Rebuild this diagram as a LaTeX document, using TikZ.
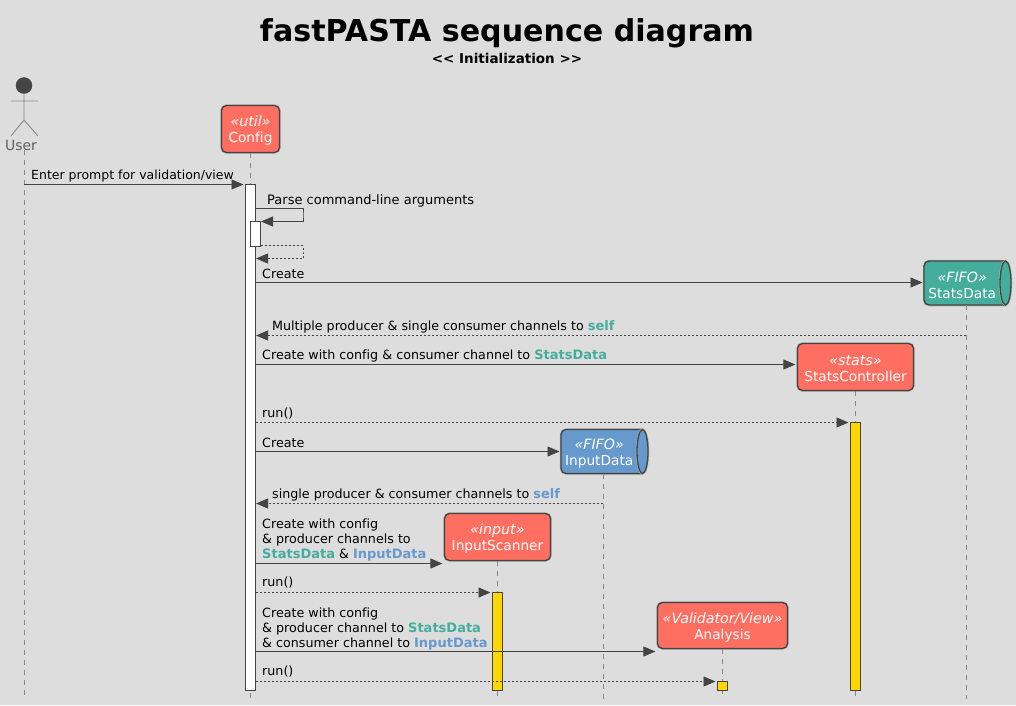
\documentclass[tikz,border=0pt]{standalone}
\usepackage{fontspec}
\setmainfont[Ligatures=NoCommon]{DejaVu Sans}
\usetikzlibrary{arrows.meta}
\definecolor{bgcol}{HTML}{DDDDDD}
\definecolor{linecol}{HTML}{444444}
\definecolor{lifecol}{HTML}{888888}
\definecolor{boxred}{HTML}{FF6F61}
\definecolor{fifoteal}{HTML}{45AD9B}
\definecolor{fifoblue}{HTML}{6699CC}
\definecolor{runyellow}{HTML}{FFD700}
\newcommand{\boldword}[2]{\textcolor{#1}{\fontsize{13}{15}\selectfont\bfseries #2}}
\newcommand{\sdata}{\boldword{fifoteal}{StatsData}}
\newcommand{\idata}{\boldword{fifoblue}{InputData}}
\newcommand{\stereo}[1]{{\fontsize{14.2}{16}\selectfont\itshape\rule{0pt}{14pt}#1}}
\tikzset{
  every node/.style={inner sep=0pt},
  msg/.style={draw=linecol,line width=0.9pt,shorten >=1.5pt,-{Triangle[length=12pt,width=10pt,fill=linecol]}},
  ret/.style={msg,dash pattern=on 2pt off 2pt},
  back/.style={shorten >=0pt},
  lifeline/.style={draw=lifecol,line width=0.9pt,dash pattern=on 5pt off 5pt},
  msgtext/.style={anchor=west,align=left,text=black,font=\fontsize{12.7}{15}\selectfont},
  partbox/.style={draw=linecol,line width=1.3pt,rounded corners=5pt,fill=boxred,text=white,align=center,
    font=\fontsize{13.7}{16}\selectfont,preaction={draw=black!30,line width=2.5pt}},
  fifobody/.style={draw=linecol,line width=1.3pt,preaction={draw=black!30,line width=2.5pt}},
  fifotext/.style={text=white,align=center,anchor=north west,minimum width=76pt,minimum height=44pt,
    font=\fontsize{13.7}{16}\selectfont},
  activebar/.style={draw=linecol,line width=1pt,fill=white,minimum width=10pt},
}
\begin{document}
\begin{tikzpicture}[x=1pt,y=-1pt]
  \fill[bgcol] (0,0) rectangle (1016,705);
  \useasboundingbox (0,0) rectangle (1016,705);
  \node (title) at (507,33) {\fontsize{30.1}{34}\selectfont\bfseries fastPASTA sequence diagram};
  \node (subtitle) at (507,58) {\fontsize{13.5}{16}\selectfont\bfseries {<}{<} Initialization {>}{>}};
  % actor
  \node[circle,fill=linecol,draw=linecol,minimum size=16pt] (head) at (24,85.5) {};
  \node[text=linecol!85,font=\fontsize{14}{16}\selectfont] (user) at (21,145) {User};
  \coordinate (neck) at (24,120);
  \coordinate (handl) at (11,101); \coordinate (handr) at (38,101);
  \coordinate (footl) at (11,136); \coordinate (footr) at (38,136);
  \draw[lifecol,line width=0.9pt] (head) -- (neck) (handl) -- (handr) (footl) -- (neck) -- (footr);
  % participants
  \node[partbox,minimum width=58pt,minimum height=47pt] (config) at (250.5,129) {\stereo{«util»}\\Config};
  \node[partbox,minimum width=116pt,minimum height=47pt] (statsctrl) at (855.5,367) {\stereo{«stats»}\\StatsController};
  \node[partbox,minimum width=106pt,minimum height=47pt] (scanner) at (497.5,537) {\stereo{«input»}\\InputScanner};
  \node[partbox,minimum width=130pt,minimum height=46pt] (analysis) at (722.5,625.5) {\stereo{«Validator/View»}\\Analysis};
  % channels
  \foreach \name/\px/\py/\col/\txt in {statsdata/924/261/fifoteal/StatsData,inputdata/561/429.5/fifoblue/InputData}{
    \draw[fifobody,fill=\col,rounded corners=5pt] (\px+81.5,\py) -- (\px,\py) -- (\px,\py+44) -- (\px+81.5,\py+44);
    \draw[fifobody,fill=\col] (\px+81.5,\py+22) ellipse [x radius=5.5pt,y radius=22pt];
    \node[fifotext] (\name) at (\px,\py) {\stereo{«FIFO»}\\\txt};
  }
  % lifelines
  \foreach \name/\x/\yend in {user/24/699,config/250.5/699,statsdata/966/699,statsctrl/855.5/699,inputdata/603/699,scanner/497.5/699,analysis/722.5/696}{
    \coordinate (\name-end) at (\x,\yend);
    \draw[lifeline] (\name.south -| \name-end) -- (\name-end);
  }
  % activations
  \node[activebar,minimum height=506pt] (cfgbar) at (250.5,437) {};
  \node[activebar,minimum height=25pt] (subbar) at (255.5,233.5) {};
  \node[activebar,fill=runyellow,minimum height=268pt] (ctrlbar) at (855.5,556.5) {};
  \node[activebar,fill=runyellow,minimum height=98pt] (scanbar) at (497.5,641.5) {};
  \node[activebar,fill=runyellow,minimum height=9pt] (anabar) at (722.5,686) {};
  % messages
  \coordinate (loopin) at (303,215); \coordinate (loopout) at (303,252);
  \draw[msg] (user-end |- 0,184.5) -- (cfgbar.west |- 0,184.5);
  \draw[msg,back] (cfgbar.east |- 0,208.5) -| (loopin) |- (subbar.east |- 0,221.5);
  \draw[ret,back] (subbar.east |- 0,245.5) -| (loopout) |- (cfgbar.east |- 0,258.5);
  \draw[msg] (cfgbar.east |- 0,282.5) -- (statsdata.west |- 0,282.5);
  \draw[ret,back] (statsdata-end |- 0,335.5) -- (cfgbar.east |- 0,335.5);
  \draw[msg] (cfgbar.east |- 0,364.5) -- (statsctrl.west |- 0,364.5);
  \draw[ret] (cfgbar.east |- 0,422.5) -- (ctrlbar.west |- 0,422.5);
  \draw[msg] (cfgbar.east |- 0,451.5) -- (inputdata.west |- 0,451.5);
  \draw[ret,back] (inputdata-end |- 0,503.5) -- (cfgbar.east |- 0,503.5);
  \draw[msg] (cfgbar.east |- 0,563.5) -- (scanner.west |- 0,563.5);
  \draw[ret] (cfgbar.east |- 0,592.5) -- (scanbar.west |- 0,592.5);
  \draw[msg] (cfgbar.east |- 0,651.5) -- (analysis.west |- 0,651.5);
  \draw[ret] (cfgbar.east |- 0,681.5) -- (anabar.west |- 0,681.5);
  % labels
  \node[msgtext,font=\fontsize{12.5}{15}\selectfont] (m1) at (31,176.5) {Enter prompt for validation/view};
  \node[msgtext,font=\fontsize{13}{15}\selectfont] (m2) at (267,200.5) {Parse command-line arguments};
  \node[msgtext] (m3) at (262,274) {Create};
  \node[msgtext] (m4) at (272,327) {Multiple producer \& single consumer channels to \boldword{fifoteal}{self}};
  \node[msgtext] (m5) at (262,356) {Create with config \& consumer channel to \sdata};
  \node[msgtext] (m6) at (262,414) {run()};
  \node[msgtext] (m7) at (262,443) {Create};
  \node[msgtext] (m8) at (272,495) {single producer \& consumer channels to \boldword{fifoblue}{self}};
  \node[msgtext] (m9) at (262,540) {Create with config\\\& producer channels to\\\sdata{} \& \idata};
  \node[msgtext] (m10) at (262,583) {run()};
  \node[msgtext] (m11) at (262,629) {Create with config\\\& producer channel to \sdata\\\& consumer channel to \idata};
  \node[msgtext] (m12) at (262,672) {run()};
\end{tikzpicture}
\end{document}
